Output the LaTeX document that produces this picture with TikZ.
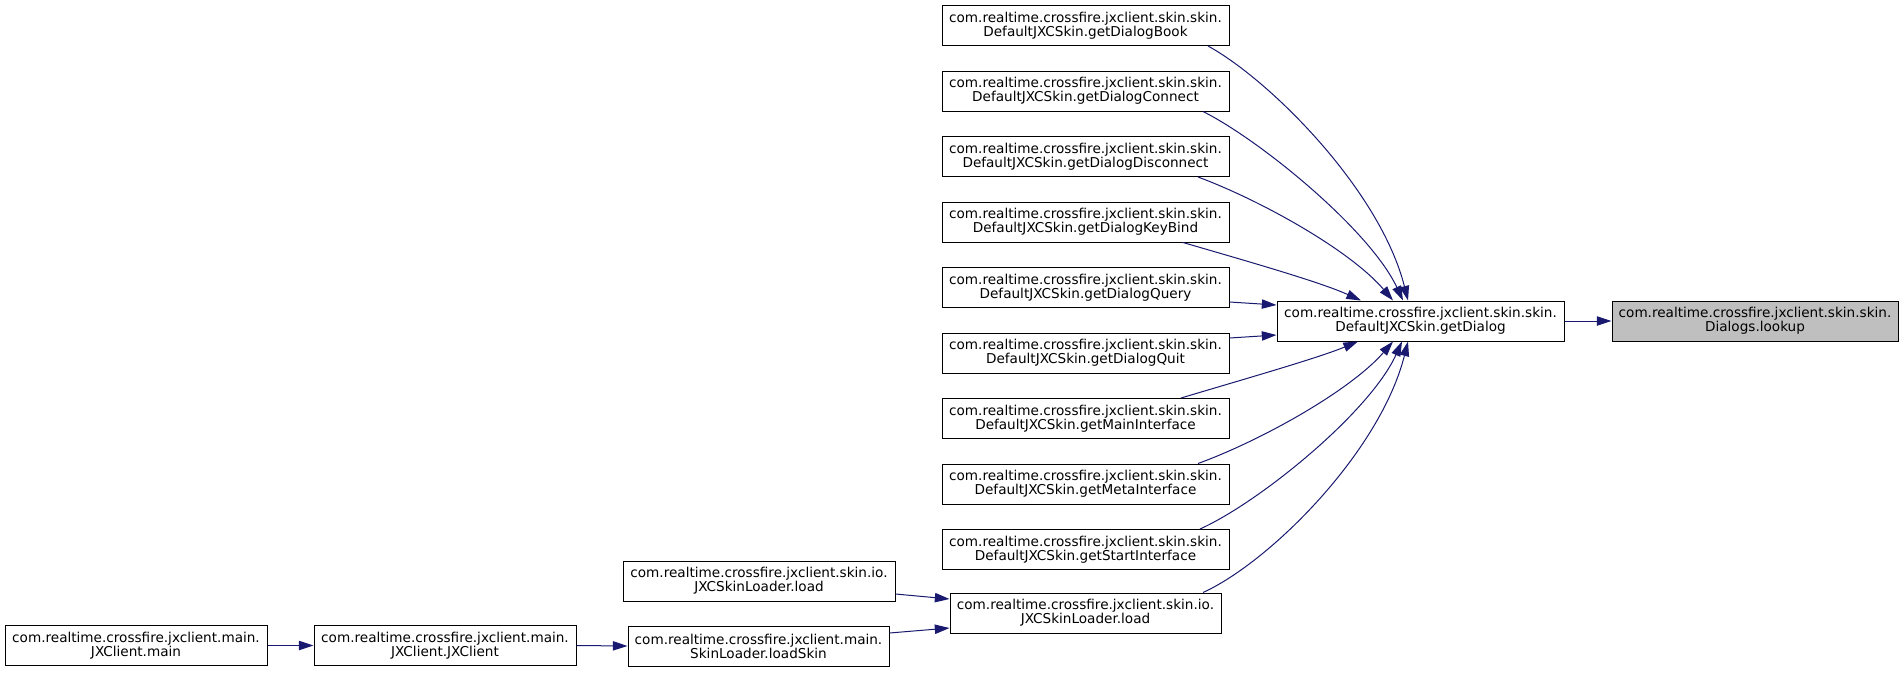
\documentclass[tikz,border=0pt]{standalone}
\usepackage{fontspec}
\setmainfont{DejaVu Sans}
\usetikzlibrary{arrows.meta,calc}
\definecolor{navyedge}{HTML}{191970}
\definecolor{lookupgray}{HTML}{BFBFBF}
\begin{document}
\begin{tikzpicture}[x=0.75pt,y=-0.75pt,
  box/.style={draw=black, line width=0.75pt, fill=white, minimum height=30pt,
    inner sep=0pt, align=center, font=\fontsize{10.2}{10.5}\selectfont},
  colbox/.style={box, minimum width=215.25pt},
  edge/.style={draw=navyedge, line width=0.75pt, -{Triangle[length=11pt,width=7pt]}}]
\fill[white] (0,0) rectangle (1904,672);
\useasboundingbox (0,0) rectangle (1904,672);

% root and main callee
\node[box, fill=lookupgray, minimum width=214.5pt] (lookup) at (1755,321)
  {com.realtime.crossfire.jxclient.skin.skin.\\Dialogs.lookup};
\node[colbox] (dlg) at (1420.5,321)
  {com.realtime.crossfire.jxclient.skin.skin.\\DefaultJXCSkin.getDialog};

% column of callers
\node[colbox] (book)  at (1085.5,25.5)  {com.realtime.crossfire.jxclient.skin.skin.\\DefaultJXCSkin.getDialogBook};
\node[colbox] (conn)  at (1085.5,91)    {com.realtime.crossfire.jxclient.skin.skin.\\DefaultJXCSkin.getDialogConnect};
\node[colbox] (disc)  at (1085.5,156.5) {com.realtime.crossfire.jxclient.skin.skin.\\DefaultJXCSkin.getDialogDisconnect};
\node[colbox] (keyb)  at (1085.5,222)   {com.realtime.crossfire.jxclient.skin.skin.\\DefaultJXCSkin.getDialogKeyBind};
\node[colbox] (query) at (1085.5,287.5) {com.realtime.crossfire.jxclient.skin.skin.\\DefaultJXCSkin.getDialogQuery};
\node[colbox] (quit)  at (1085.5,353)   {com.realtime.crossfire.jxclient.skin.skin.\\DefaultJXCSkin.getDialogQuit};
\node[colbox] (mainif) at (1085.5,418.5) {com.realtime.crossfire.jxclient.skin.skin.\\DefaultJXCSkin.getMainInterface};
\node[colbox] (metaif) at (1085.5,484)  {com.realtime.crossfire.jxclient.skin.skin.\\DefaultJXCSkin.getMetaInterface};
\node[colbox] (startif) at (1085.5,549.5) {com.realtime.crossfire.jxclient.skin.skin.\\DefaultJXCSkin.getStartInterface};

% loaders
\node[box, minimum width=203.25pt] (loadr) at (1085.5,613)
  {com.realtime.crossfire.jxclient.skin.io.\\JXCSkinLoader.load};
\node[box, minimum width=204pt] (loadl) at (759,581)
  {com.realtime.crossfire.jxclient.skin.io.\\JXCSkinLoader.load};
\node[box, minimum width=195.75pt] (loadskin) at (758.5,646)
  {com.realtime.crossfire.jxclient.main.\\SkinLoader.loadSkin};
\node[box, minimum width=196.5pt] (jxc) at (445,645.5)
  {com.realtime.crossfire.jxclient.main.\\JXClient.JXClient};
\node[box, minimum width=196.5pt] (jmain) at (136,645.5)
  {com.realtime.crossfire.jxclient.main.\\JXClient.main};

% edges
\draw[edge] (dlg.east) -- (lookup.west);

\draw[edge] ($(book.south)+(122.5,0)$) .. controls (1270,80) and (1380,190) .. ($(dlg.north)+(-12.5,0)$);
\draw[edge] ($(conn.south)+(117.5,0)$) .. controls (1260,140) and (1370,230) .. ($(dlg.north)+(-17.5,0)$);
\draw[edge] ($(disc.south)+(112.5,0)$) .. controls (1260,200) and (1350,250) .. ($(dlg.north)+(-27.5,0)$);
\draw[edge] ($(keyb.south)+(97.5,0)$) .. controls (1250,262) and (1320,282) .. ($(dlg.north)+(-59.5,0)$);
\draw[edge] ($(query.east)+(0,14.5)$) -- ($(dlg.west)+(0,-16)$);
\draw[edge] ($(quit.east)+(0,-15)$) -- ($(dlg.west)+(0,14)$);
\draw[edge] ($(mainif.north)+(95.5,0)$) .. controls (1248,378) and (1318,358) .. ($(dlg.south)+(-62.5,0)$);
\draw[edge] ($(metaif.north)+(112.5,0)$) .. controls (1260,441) and (1350,391) .. ($(dlg.south)+(-27.5,0)$);
\draw[edge] ($(startif.north)+(114.5,0)$) .. controls (1260,502) and (1370,412) .. ($(dlg.south)+(-18.5,0)$);
\draw[edge] ($(loadr.north)+(117.5,0)$) .. controls (1270,562) and (1380,452) .. ($(dlg.south)+(-12.5,0)$);

\draw[edge] ($(loadl.east)+(0,13)$) -- ($(loadr.west)+(0,-14)$);
\draw[edge] ($(loadskin.east)+(0,-13)$) -- ($(loadr.west)+(0,15)$);
\draw[edge] (jxc.east) -- (loadskin.west);
\draw[edge] (jmain.east) -- (jxc.west);
\end{tikzpicture}
\end{document}
